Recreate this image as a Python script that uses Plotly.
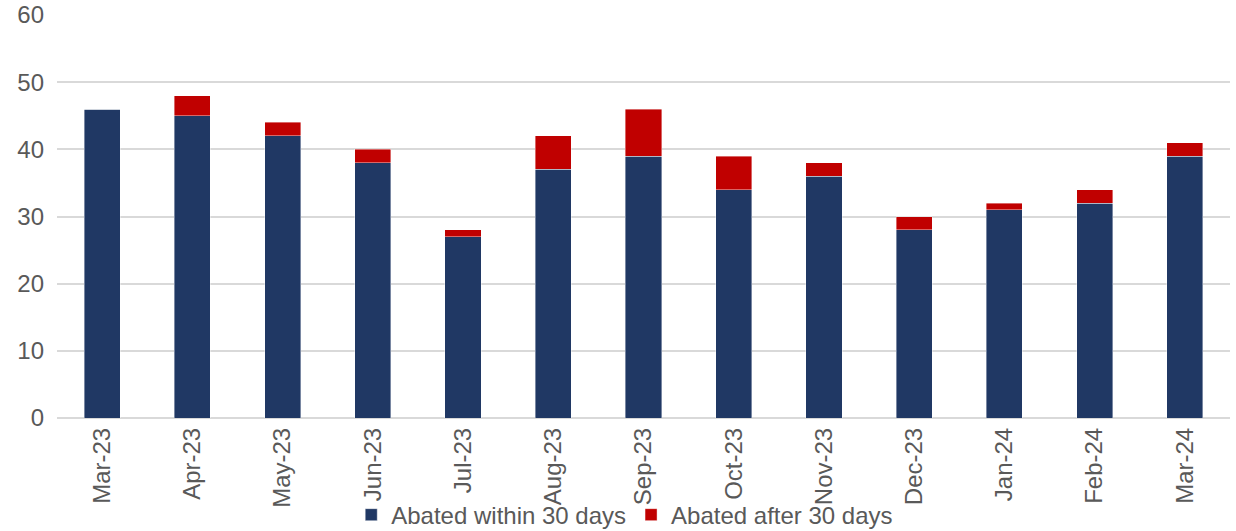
import plotly.graph_objects as go

months = ["Mar-23", "Apr-23", "May-23", "Jun-23", "Jul-23", "Aug-23", "Sep-23",
          "Oct-23", "Nov-23", "Dec-23", "Jan-24", "Feb-24", "Mar-24"]
within_30 = [46, 45, 42, 38, 27, 37, 39, 34, 36, 28, 31, 32, 39]
after_30 = [0, 3, 2, 2, 1, 5, 7, 5, 2, 2, 1, 2, 2]

fig = go.Figure()
fig.add_trace(go.Bar(
    x=months, y=within_30, name="Abated within 30 days",
    marker=dict(color="#203864", line=dict(color="rgba(255,255,255,0.5)", width=0.8)),
))
fig.add_trace(go.Bar(
    x=months, y=after_30, name="Abated after 30 days",
    marker=dict(color="#C00000", line=dict(color="rgba(255,255,255,0.5)", width=0.8)),
))

fig.update_layout(
    barmode="stack",
    bargap=0.6,
    width=1236, height=531,
    margin=dict(l=57, r=6, t=15, b=113),
    paper_bgcolor="white", plot_bgcolor="white",
    font=dict(family="Liberation Sans, Arial, sans-serif", size=24, color="#595959"),
    legend=dict(
        orientation="h", x=0.484, xanchor="center",
        yref="container", y=0.03, yanchor="middle",
        font=dict(size=24, color="#595959"), bgcolor="rgba(0,0,0,0)",
        traceorder="normal", itemwidth=30, tracegroupgap=0,
    ),
    xaxis=dict(tickangle=-90, showgrid=False, showline=False, ticks="",
               automargin=False, ticklabelstandoff=4, tickfont=dict(size=24)),
    yaxis=dict(range=[0, 60], dtick=10, gridcolor="#d9d9d9", gridwidth=1.5,
               zeroline=True, zerolinecolor="#d9d9d9", zerolinewidth=1.5,
               ticks="", ticklabelstandoff=12, automargin=False,
               tickfont=dict(size=24)),
)

# remove the default page margin so the figure sits at the window's corner
fig.write_html("out.html", config={"displayModeBar": False},
               post_script="document.body.style.margin='0';")
